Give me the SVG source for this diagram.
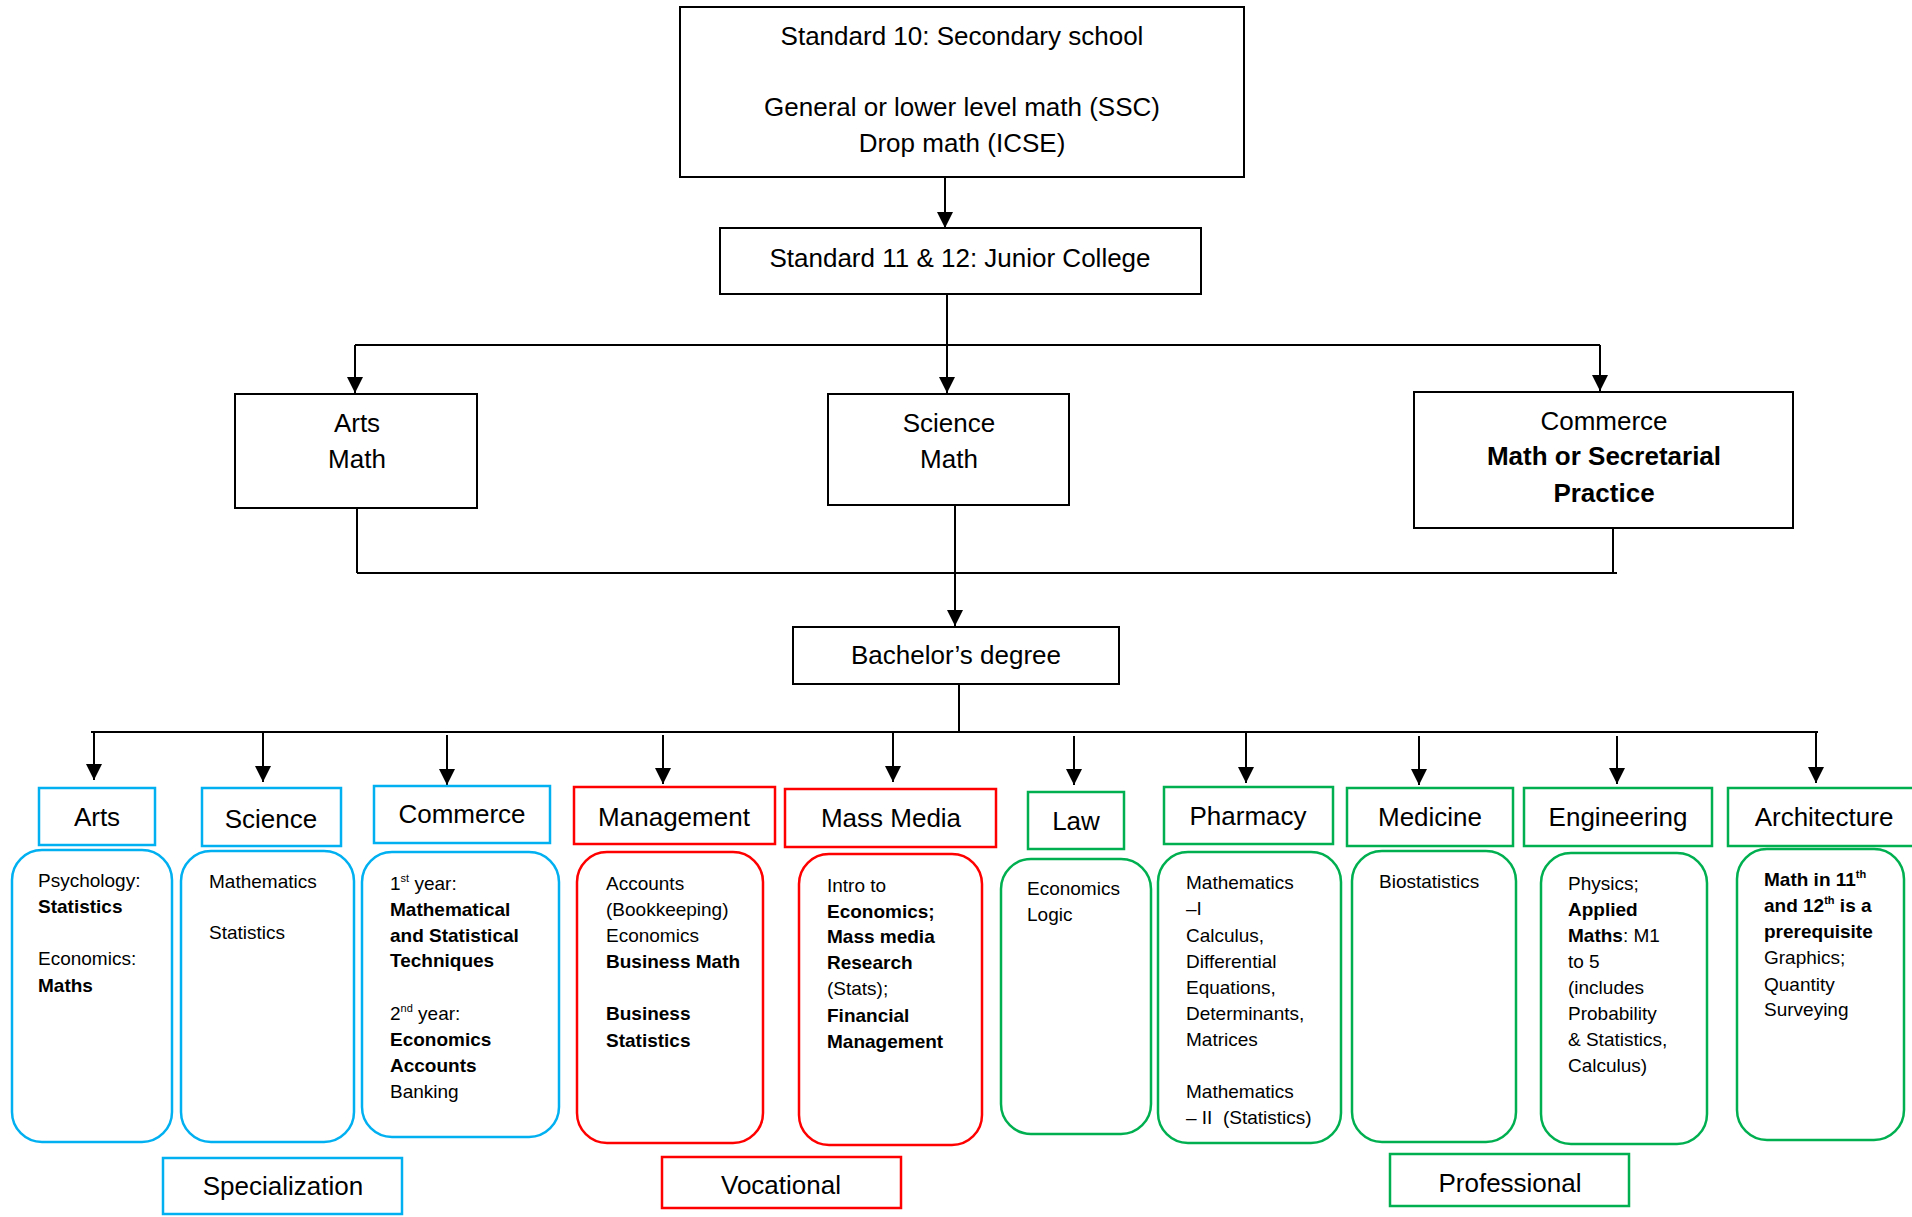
<svg xmlns="http://www.w3.org/2000/svg" width="1912" height="1217" viewBox="0 0 1912 1217">
<style>
text{font-family:"Liberation Sans",Arial,sans-serif;fill:#000}
.big{font-size:26px}
.mid{text-anchor:middle}
.sm{font-size:19px}
.b{font-weight:bold}
.blk{fill:#fff;stroke:#000;stroke-width:2}
.blue{fill:#fff;stroke:#00B0F0;stroke-width:2.5}
.red{fill:#fff;stroke:#FF0000;stroke-width:2.5}
.green{fill:#fff;stroke:#00B050;stroke-width:2.5}
.con{fill:none;stroke:#000;stroke-width:2}
.arr{marker-end:url(#ah)}
</style>
<defs>
<marker id="ah" markerUnits="userSpaceOnUse" markerWidth="16" markerHeight="17" refX="16" refY="8" orient="auto">
<path d="M0,0 L16,8 L0,16 z" fill="#000"/>
</marker>
</defs>
<rect width="1912" height="1217" fill="#fff"/>

<g id="connectors">
<path class="con arr" d="M945,177 V228"/>
<path class="con arr" d="M947,294 V393"/>
<path class="con" d="M355,345 H1600"/>
<path class="con arr" d="M355,345 V393"/>
<path class="con arr" d="M1600,345 V391"/>
<path class="con" d="M357,508 V573 M955,505 V573 M1613,528 V573 M357,573 H1617"/>
<path class="con arr" d="M955,573 V626"/>
<path class="con" d="M959,684 V732 M91,732 H1818"/>
<path class="con arr" d="M94,732 V780"/>
<path class="con arr" d="M263,732 V782"/>
<path class="con arr" d="M447,735 V785"/>
<path class="con arr" d="M663,735 V784"/>
<path class="con arr" d="M893,732 V782"/>
<path class="con arr" d="M1074,736 V785"/>
<path class="con arr" d="M1246,733 V783"/>
<path class="con arr" d="M1419,736 V785"/>
<path class="con arr" d="M1617,736 V784"/>
<path class="con arr" d="M1816,733 V783"/>
</g>

<g id="std10">
<rect class="blk" x="680" y="7" width="564" height="170"/>
<text class="big mid" x="962" y="45">Standard 10: Secondary school</text>
<text class="big mid" x="962" y="116">General or lower level math (SSC)</text>
<text class="big mid" x="962" y="152">Drop math (ICSE)</text>
</g>

<g id="std11">
<rect class="blk" x="720" y="228" width="481" height="66"/>
<text class="big mid" x="960" y="267">Standard 11 &amp; 12: Junior College</text>
</g>

<g id="arts-jc">
<rect class="blk" x="235" y="394" width="242" height="114"/>
<text class="big mid" x="357" y="432">Arts</text>
<text class="big mid" x="357" y="468">Math</text>
</g>

<g id="science-jc">
<rect class="blk" x="828" y="394" width="241" height="111"/>
<text class="big mid" x="949" y="432">Science</text>
<text class="big mid" x="949" y="468">Math</text>
</g>

<g id="commerce-jc">
<rect class="blk" x="1414" y="392" width="379" height="136"/>
<text class="big mid" x="1604" y="430">Commerce</text>
<text class="big mid b" x="1604" y="465">Math or Secretarial</text>
<text class="big mid b" x="1604" y="502">Practice</text>
</g>

<g id="bachelor">
<rect class="blk" x="793" y="627" width="326" height="57"/>
<text class="big mid" x="956" y="664">Bachelor’s degree</text>
</g>

<g id="arts">
<rect class="blue" x="39" y="788" width="116" height="57"/>
<text class="big mid" x="97" y="826">Arts</text>
<rect class="blue" x="12" y="850" width="160" height="292" rx="30"/>
<text class="sm" x="38" y="887">Psychology:</text>
<text class="sm b" x="38" y="913">Statistics</text>
<text class="sm" x="38" y="965">Economics:</text>
<text class="sm b" x="38" y="992">Maths</text>
</g>

<g id="science">
<rect class="blue" x="202" y="788" width="139" height="58"/>
<text class="big mid" x="271" y="828">Science</text>
<rect class="blue" x="181" y="851" width="173" height="291" rx="30"/>
<text class="sm" x="209" y="888">Mathematics</text>
<text class="sm" x="209" y="939">Statistics</text>
</g>

<g id="commerce">
<rect class="blue" x="374" y="786" width="176" height="57"/>
<text class="big mid" x="462" y="823">Commerce</text>
<rect class="blue" x="362" y="852" width="197" height="285" rx="30"/>
<text class="sm" x="390" y="890">1<tspan font-size="11" dy="-8">st</tspan><tspan dy="8"> year:</tspan></text>
<text class="sm b" x="390" y="916">Mathematical</text>
<text class="sm b" x="390" y="942">and Statistical</text>
<text class="sm b" x="390" y="967">Techniques</text>
<text class="sm" x="390" y="1020">2<tspan font-size="11" dy="-8">nd</tspan><tspan dy="8"> year:</tspan></text>
<text class="sm b" x="390" y="1046">Economics</text>
<text class="sm b" x="390" y="1072">Accounts</text>
<text class="sm" x="390" y="1098">Banking</text>
</g>

<g id="management">
<rect class="red" x="574" y="787" width="201" height="57"/>
<text class="big mid" x="674" y="826">Management</text>
<rect class="red" x="577" y="852" width="186" height="291" rx="30"/>
<text class="sm" x="606" y="890">Accounts</text>
<text class="sm" x="606" y="916">(Bookkeeping)</text>
<text class="sm" x="606" y="942">Economics</text>
<text class="sm b" x="606" y="968">Business Math</text>
<text class="sm b" x="606" y="1020">Business</text>
<text class="sm b" x="606" y="1047">Statistics</text>
</g>

<g id="massmedia">
<rect class="red" x="785" y="789" width="211" height="58"/>
<text class="big mid" x="891" y="827">Mass Media</text>
<rect class="red" x="799" y="854" width="183" height="291" rx="30"/>
<text class="sm" x="827" y="892">Intro to</text>
<text class="sm b" x="827" y="918">Economics;</text>
<text class="sm b" x="827" y="943">Mass media</text>
<text class="sm b" x="827" y="969">Research</text>
<text class="sm" x="827" y="995">(Stats);</text>
<text class="sm b" x="827" y="1022">Financial</text>
<text class="sm b" x="827" y="1048">Management</text>
</g>

<g id="law">
<rect class="green" x="1028" y="792" width="96" height="57"/>
<text class="big mid" x="1076" y="830">Law</text>
<rect class="green" x="1001" y="859" width="150" height="275" rx="30"/>
<text class="sm" x="1027" y="895">Economics</text>
<text class="sm" x="1027" y="921">Logic</text>
</g>

<g id="pharmacy">
<rect class="green" x="1164" y="787" width="169" height="57"/>
<text class="big mid" x="1248" y="825">Pharmacy</text>
<rect class="green" x="1158" y="852" width="183" height="291" rx="30"/>
<text class="sm" x="1186" y="889">Mathematics</text>
<text class="sm" x="1186" y="915">–I</text>
<text class="sm" x="1186" y="942">Calculus,</text>
<text class="sm" x="1186" y="968">Differential</text>
<text class="sm" x="1186" y="994">Equations,</text>
<text class="sm" x="1186" y="1020">Determinants,</text>
<text class="sm" x="1186" y="1046">Matrices</text>
<text class="sm" x="1186" y="1098">Mathematics</text>
<text class="sm" x="1186" y="1124" xml:space="preserve">– II  (Statistics)</text>
</g>

<g id="medicine">
<rect class="green" x="1347" y="788" width="166" height="58"/>
<text class="big mid" x="1430" y="826">Medicine</text>
<rect class="green" x="1352" y="851" width="164" height="291" rx="30"/>
<text class="sm" x="1379" y="888">Biostatistics</text>
</g>

<g id="engineering">
<rect class="green" x="1524" y="788" width="188" height="58"/>
<text class="big mid" x="1618" y="826">Engineering</text>
<rect class="green" x="1541" y="853" width="166" height="291" rx="30"/>
<text class="sm" x="1568" y="890">Physics;</text>
<text class="sm b" x="1568" y="916">Applied</text>
<text class="sm" x="1568" y="942"><tspan font-weight="bold">Maths</tspan>: M1</text>
<text class="sm" x="1568" y="968">to 5</text>
<text class="sm" x="1568" y="994">(includes</text>
<text class="sm" x="1568" y="1020">Probability</text>
<text class="sm" x="1568" y="1046">&amp; Statistics,</text>
<text class="sm" x="1568" y="1072">Calculus)</text>
</g>

<g id="architecture">
<rect class="green" x="1728" y="788" width="186" height="58"/>
<text class="big mid" x="1824" y="826">Architecture</text>
<rect class="green" x="1737" y="849" width="167" height="291" rx="30"/>
<text class="sm b" x="1764" y="886">Math in 11<tspan font-size="11" dy="-8">th</tspan></text>
<text class="sm b" x="1764" y="912">and 12<tspan font-size="11" dy="-8">th</tspan><tspan dy="8"> is a</tspan></text>
<text class="sm b" x="1764" y="938">prerequisite</text>
<text class="sm" x="1764" y="964">Graphics;</text>
<text class="sm" x="1764" y="991">Quantity</text>
<text class="sm" x="1764" y="1016">Surveying</text>
</g>

<g id="specialization">
<rect class="blue" x="163" y="1158" width="239" height="56"/>
<text class="big mid" x="283" y="1195">Specialization</text>
</g>

<g id="vocational">
<rect class="red" x="662" y="1157" width="239" height="51"/>
<text class="big mid" x="781" y="1194">Vocational</text>
</g>

<g id="professional">
<rect class="green" x="1390" y="1154" width="239" height="52"/>
<text class="big mid" x="1510" y="1192">Professional</text>
</g>
</svg>
